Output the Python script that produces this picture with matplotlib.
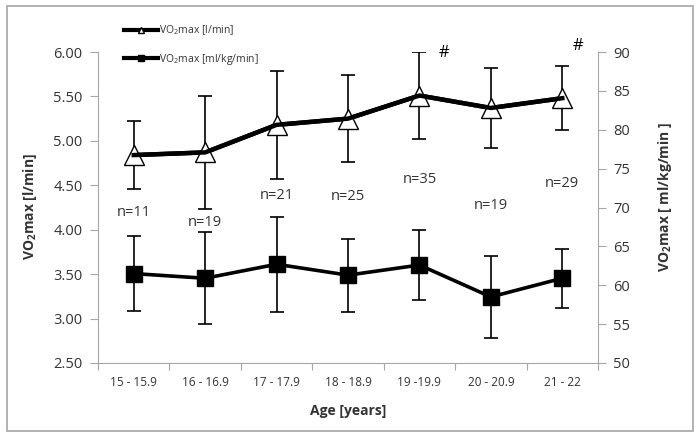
import numpy as np
import matplotlib
matplotlib.use("Agg")
import matplotlib.pyplot as plt
from matplotlib.lines import Line2D
from matplotlib.patches import Rectangle

plt.rcParams['font.family'] = ['Open Sans', 'DejaVu Sans']
plt.rcParams['mathtext.fontset'] = 'custom'
plt.rcParams['mathtext.rm'] = 'Open Sans'
plt.rcParams['mathtext.bf'] = 'Open Sans:bold'

ages = ["15 - 15.9", "16 - 16.9", "17 - 17.9", "18 - 18.9", "19 -19.9", "20 - 20.9", "21 - 22"]
n_labels = ["n=11", "n=19", "n=21", "n=25", "n=35", "n=19", "n=29"]
n_ypos = [4.19, 4.08, 4.38, 4.37, 4.56, 4.27, 4.52]

# absolute VO2max [l/min], left axis
vo2_abs = [4.84, 4.87, 5.18, 5.25, 5.51, 5.37, 5.48]
vo2_abs_sd = [0.38, 0.64, 0.61, 0.49, 0.49, 0.45, 0.36]

# relative VO2max [ml/kg/min], right axis
vo2_rel = [61.5, 60.9, 62.7, 61.3, 62.6, 58.5, 60.9]
vo2_rel_sd = [4.8, 5.9, 6.1, 4.7, 4.5, 5.3, 3.8]

# significance marks (# above the bars)
hash_x = [4.34, 6.22]
hash_y = [5.99, 6.07]

x = np.arange(len(ages))
grey = '#a6a6a6'
txt = '#333333'

fig = plt.figure(figsize=(6.96, 4.34), dpi=100)
fig.patches.append(Rectangle((7/696, 3/434), 686/696, 425/434, transform=fig.transFigure,
                             fill=False, edgecolor=grey, linewidth=1.2))
ax = fig.add_axes([98/696, 1 - 363/434, 500/696, 311/434])
ax2 = ax.twinx()

ax.errorbar(x, vo2_abs, yerr=vo2_abs_sd, fmt='none', ecolor='black', elinewidth=1.2,
            capsize=5, capthick=1.2, zorder=2)
ax.plot(x, vo2_abs, color='black', linewidth=3.2, marker='^', markersize=15,
        markerfacecolor='white', markeredgecolor='black', markeredgewidth=1.0, zorder=3)
ax.plot(x, vo2_abs, color='black', linewidth=3.2, zorder=4)

ax2.errorbar(x, vo2_rel, yerr=vo2_rel_sd, fmt='none', ecolor='black', elinewidth=1.2,
             capsize=5, capthick=1.2, zorder=2)
ax2.plot(x, vo2_rel, color='black', linewidth=2.6, marker='s', markersize=12,
         markerfacecolor='black', zorder=3)

for xi, lab, yp in zip(x, n_labels, n_ypos):
    ax.text(xi, yp, lab, ha='center', va='center', fontsize=10.5, color=txt)
for hx, hy in zip(hash_x, hash_y):
    ax.text(hx, hy, '#', ha='center', va='center', fontsize=12, color='black', clip_on=False)

ax.set_xlim(-0.5, len(ages) - 0.5)
ax.set_ylim(2.5, 6.0)
ax.set_yticks(np.arange(2.5, 6.01, 0.5))
ax.set_yticklabels(["%.2f" % v for v in np.arange(2.5, 6.01, 0.5)])
ax2.set_ylim(50, 90)
ax2.set_yticks(np.arange(50, 91, 5))

ax.set_xticks(np.arange(-0.5, len(ages), 1.0))
ax.set_xticklabels([])
ax.set_xticks(x, minor=True)
ax.set_xticklabels(ages, minor=True)
ax.tick_params(axis='x', which='major', length=5, color=grey, direction='out')
ax.tick_params(axis='x', which='minor', length=0, pad=9, labelsize=8.5, labelcolor=txt)
ax.tick_params(axis='y', length=6, color=grey, labelsize=10.5, labelcolor=txt, pad=5)
ax2.tick_params(axis='y', length=6, color=grey, labelsize=10.5, labelcolor=txt, pad=5)

for a in (ax, ax2):
    a.spines['top'].set_visible(False)
    for s in ('left', 'right', 'bottom'):
        a.spines[s].set_color(grey)
ax.spines['right'].set_visible(False)
ax2.spines['left'].set_visible(False)
ax2.spines['bottom'].set_visible(False)

fig.text(348/696, 1 - 411/434, 'Age [years]', ha='center', va='center', fontsize=10,
         fontweight='bold', color=txt)
fig.text(30/696, 1 - 207/434, r'VO$_\mathbf{2}$max [l/min]', ha='center', va='center',
         rotation=90, fontsize=10, fontweight='bold', color=txt)
fig.text(665/696, 1 - 197/434, r'VO$_\mathbf{2}$max [ ml/kg/min ]', ha='center', va='center',
         rotation=90, fontsize=10, fontweight='bold', color=txt)

h1 = Line2D([], [], color='black', linewidth=3, marker='^', markersize=5,
            markerfacecolor='white')
h2 = Line2D([], [], color='black', linewidth=3, marker='s', markersize=5)
fig.legend([h1, h2], ['VO$_2$max [l/min]', 'VO$_2$max [ml/kg/min]'],
           loc='upper left', bbox_to_anchor=(115/696, 1 - 14/434), frameon=False,
           fontsize=7.5, handlelength=3.2, handletextpad=0.1, labelspacing=1.4,
           labelcolor=txt)

fig.savefig('out.png', dpi=100)
